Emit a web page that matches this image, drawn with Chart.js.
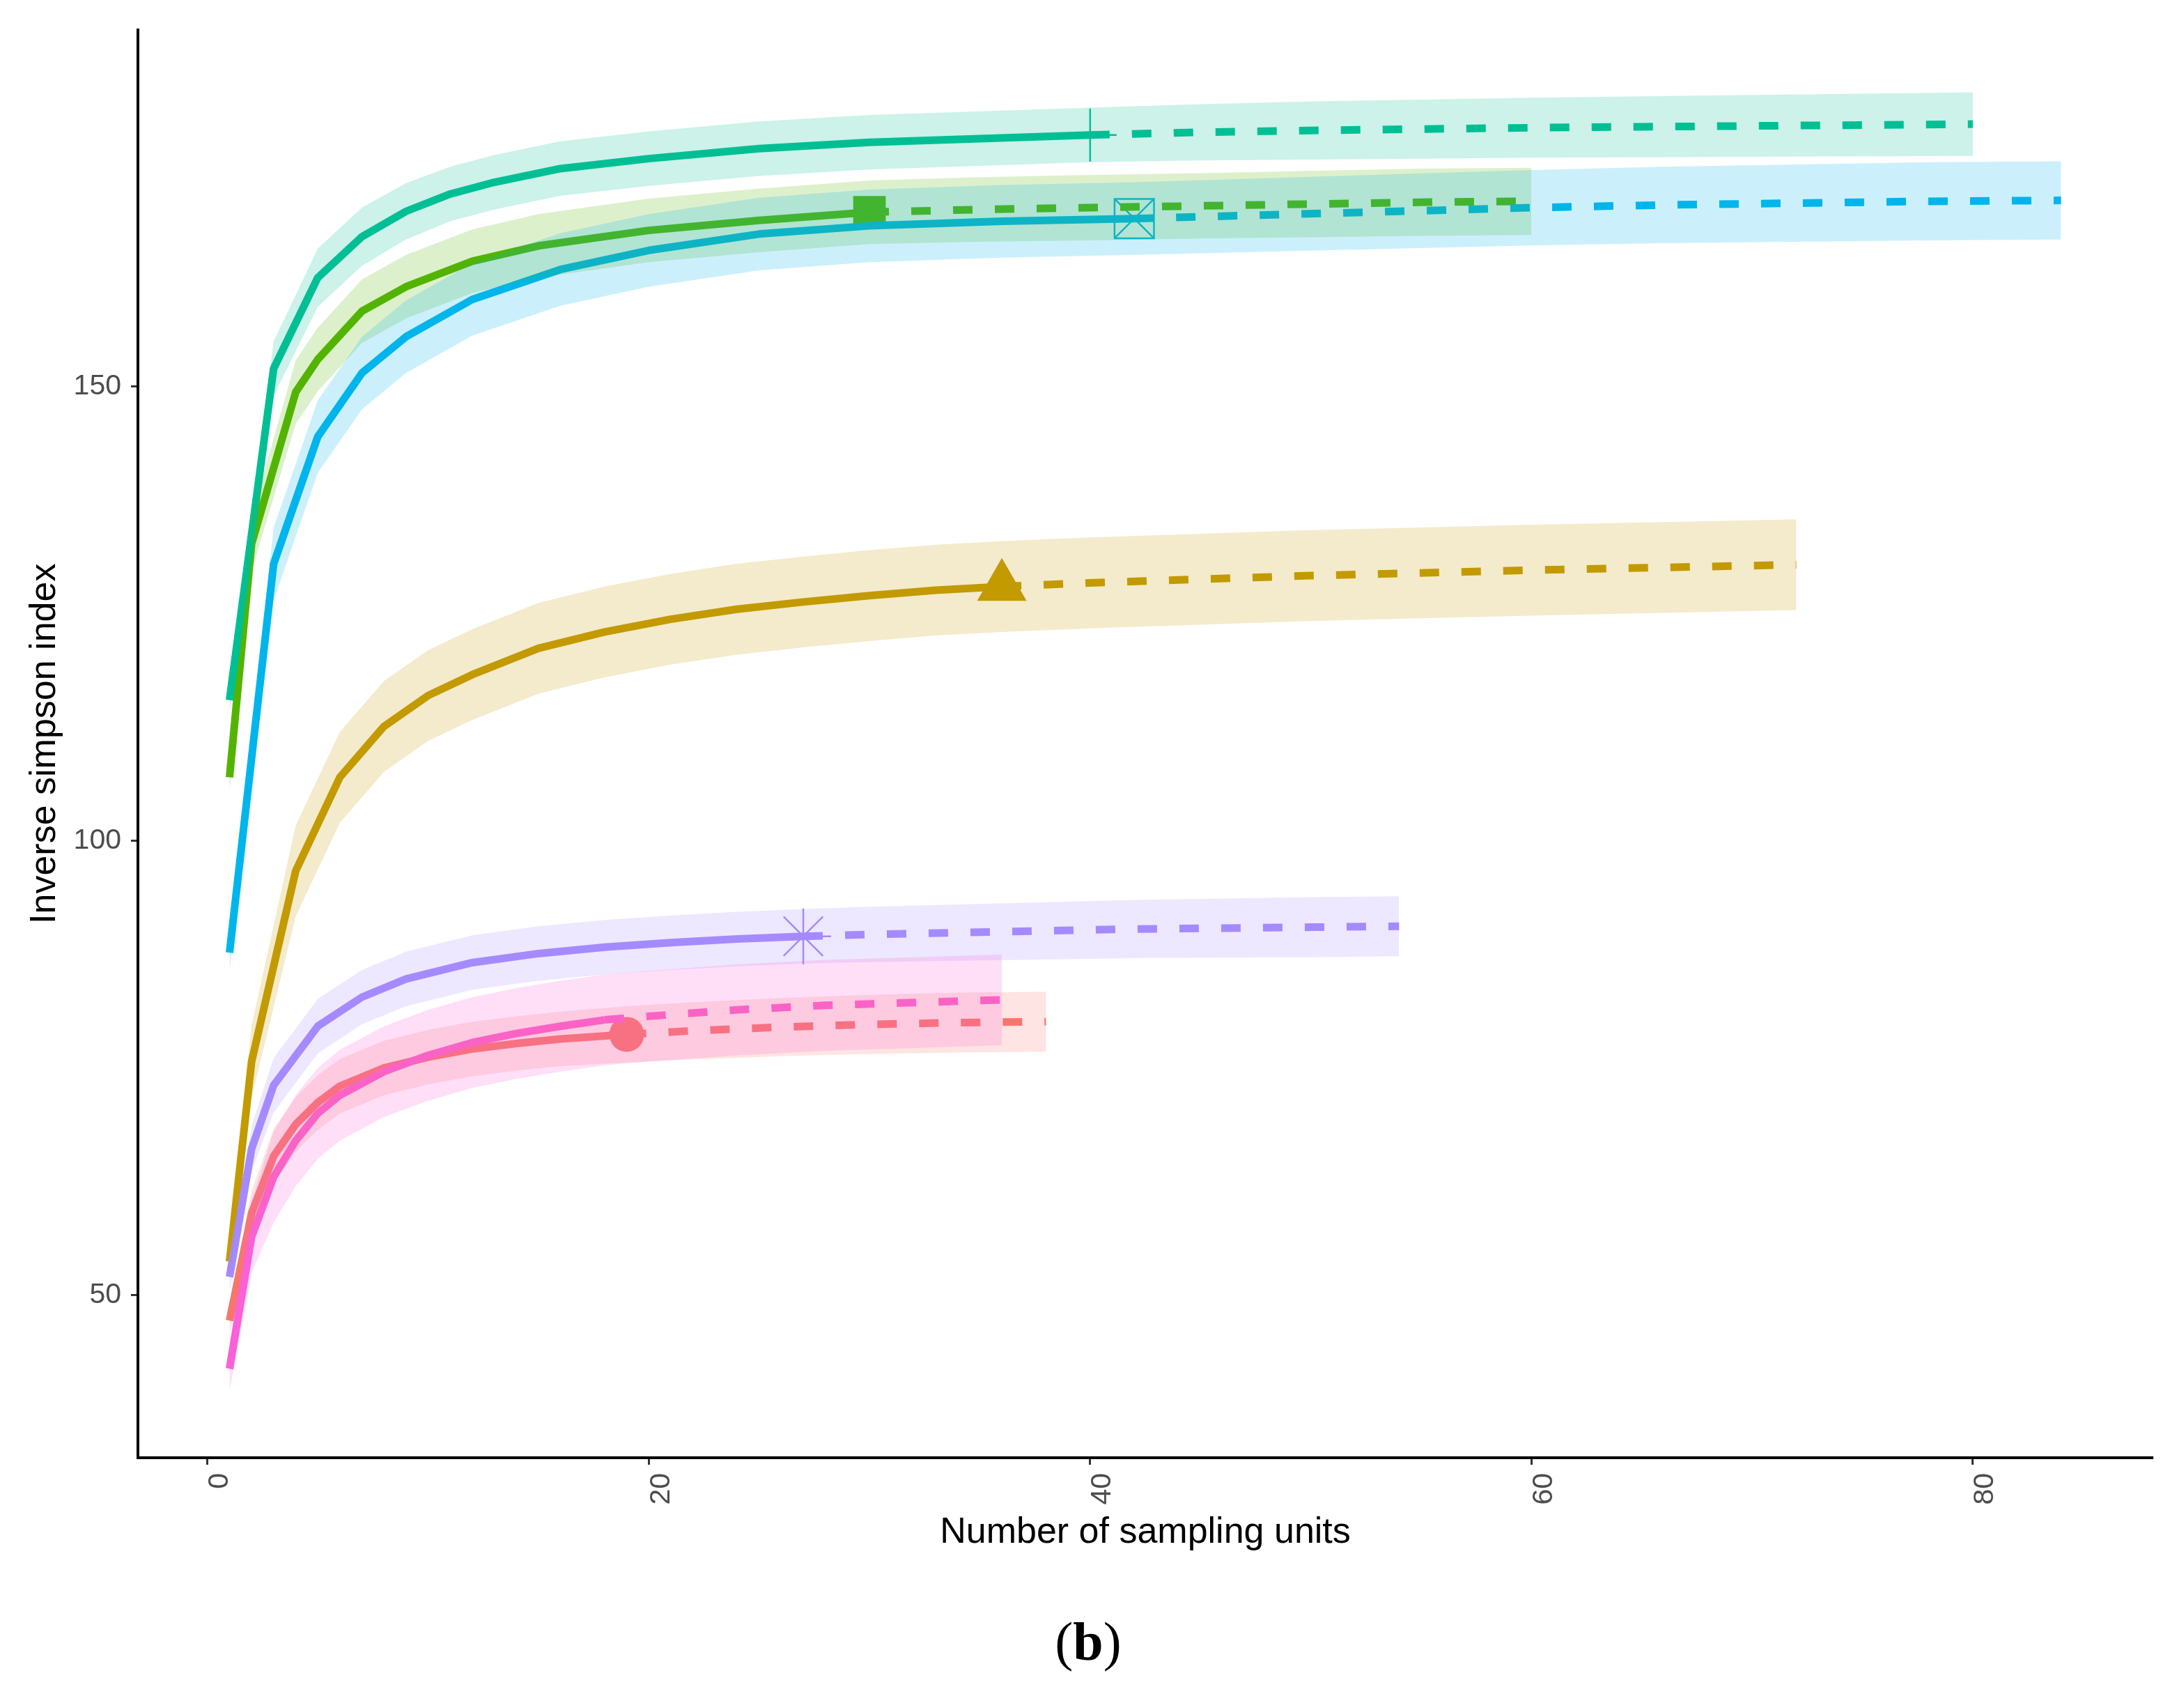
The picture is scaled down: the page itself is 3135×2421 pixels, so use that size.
<!DOCTYPE html>
<html>
<head>
<meta charset="utf-8">
<script src="https://cdn.jsdelivr.net/npm/chart.js@4.4.0/dist/chart.umd.min.js"></script>
<style>
    html, body { margin: 0; padding: 0; background: #fff; }
    #wrap { position: relative; width: 3135px; height: 2421px; }
    #caption {
        position: absolute; left: 0; top: 2317px; width: 3124px;
        text-align: center; font-family: "Liberation Serif", serif;
        font-size: 78px; line-height: 1; color: #000;
    }
</style>
</head>
<body>
<div id="wrap">
    <canvas id="chart" width="3135" height="2421"></canvas>
    <div id="caption">(<b>b</b>)</div>
</div>
<script>
// Tick labels
const xTicks = [0, 20, 40, 60, 80];
const yTicks = [50, 100, 150];

// Observed sample size of each group (solid line ends here, dashed after)
const sampleSizes = [19, 36, 30, 40, 42, 27, 18];

// Group 1 (red)
const redX  = [1, 2, 3, 4, 5, 6, 8, 10, 12, 14, 16, 19, 22, 26, 30, 34, 38];
const redY  = [47.2, 59, 65.3, 68.8, 71.2, 73, 75, 76.2, 77.1, 77.7, 78.2, 78.7, 79.1, 79.5, 79.8, 80, 80.1];
const redLo = [45.7, 56.5, 62.3, 65.8, 68.2, 70, 72, 73.2, 74.1, 74.7, 75.2, 75.6, 75.95, 76.3, 76.55, 76.7, 76.8];
const redHi = [48.7, 61.5, 68.3, 71.8, 74.2, 76, 78, 79.2, 80.1, 80.7, 81.2, 81.8, 82.25, 82.7, 83.05, 83.3, 83.4];

// Group 2 (gold)
const goldX  = [1, 2, 4, 6, 8, 10, 12, 15, 18, 21, 24, 27, 30, 33, 36, 40, 45, 50, 55, 60, 66, 72];
const goldY  = [53.7, 75.7, 96.7, 107, 112.6, 116, 118.3, 121.2, 123, 124.4, 125.5, 126.3, 127, 127.6, 128, 128.4, 128.8, 129.2, 129.5, 129.8, 130.1, 130.4];
const goldLo = [51.7, 71.7, 91.7, 102, 107.6, 111, 113.3, 116.2, 118, 119.4, 120.5, 121.3, 122, 122.6, 123, 123.4, 123.8, 124.2, 124.5, 124.8, 125.1, 125.4];
const goldHi = [55.7, 79.7, 101.7, 112, 117.6, 121, 123.3, 126.2, 128, 129.4, 130.5, 131.3, 132, 132.6, 133, 133.4, 133.8, 134.2, 134.5, 134.8, 135.1, 135.4];

// Group 3 (green)
const greenX  = [1, 2, 4, 5, 7, 9, 12, 15, 20, 25, 30, 35, 40, 45, 50, 55, 60];
const greenY  = [107, 132.7, 149.4, 153, 158.3, 161, 163.8, 165.5, 167.2, 168.3, 169.2, 169.5, 169.7, 169.9, 170.1, 170.3, 170.4];
const greenLo = [105.5, 129.7, 145.9, 149.5, 154.8, 157.5, 160.3, 162, 163.7, 164.8, 165.7, 165.95, 166.1, 166.3, 166.45, 166.6, 166.7];
const greenHi = [108.5, 135.7, 152.9, 156.5, 161.8, 164.5, 167.3, 169, 170.7, 171.8, 172.7, 173.05, 173.3, 173.5, 173.75, 174, 174.1];

// Group 4 (teal)
const tealX  = [1, 3, 5, 7, 9, 11, 13, 16, 20, 25, 30, 35, 40, 45, 50, 55, 60, 65, 70, 75, 80];
const tealY  = [115.5, 152, 162, 166.5, 169.3, 171.2, 172.5, 174, 175.1, 176.2, 176.9, 177.3, 177.7, 178, 178.2, 178.35, 178.5, 178.6, 178.7, 178.8, 178.9];
const tealLo = [114, 149, 158.8, 163.3, 166.2, 168.2, 169.5, 171, 172.1, 173.2, 173.9, 174.3, 174.7, 174.9, 175, 175.1, 175.2, 175.25, 175.3, 175.35, 175.4];
const tealHi = [117, 155, 165.2, 169.7, 172.4, 174.2, 175.5, 177, 178.1, 179.2, 179.9, 180.3, 180.7, 181.1, 181.4, 181.6, 181.8, 181.95, 182.1, 182.25, 182.4];

// Group 5 (blue)
const blueX  = [1, 3, 5, 7, 9, 12, 16, 20, 25, 30, 36, 42, 48, 54, 60, 66, 72, 78, 84];
const blueY  = [87.7, 130.5, 144.5, 151.5, 155.5, 159.6, 162.9, 165, 166.8, 167.7, 168.2, 168.5, 168.9, 169.3, 169.7, 170, 170.2, 170.4, 170.5];
const blueLo = [85.7, 126.5, 140.5, 147.5, 151.5, 155.6, 158.9, 161, 162.8, 163.7, 164.2, 164.5, 164.85, 165.2, 165.55, 165.8, 165.95, 166.1, 166.2];
const blueHi = [89.7, 134.5, 148.5, 155.5, 159.5, 163.6, 166.9, 169, 170.8, 171.7, 172.2, 172.5, 172.95, 173.4, 173.85, 174.2, 174.45, 174.7, 174.8];

// Group 6 (purple)
const purpleX  = [1, 2, 3, 5, 7, 9, 12, 15, 18, 21, 24, 27, 30, 34, 38, 42, 46, 50, 54];
const purpleY  = [52, 66.1, 73.1, 79.6, 82.8, 84.8, 86.6, 87.6, 88.3, 88.8, 89.2, 89.5, 89.7, 89.9, 90.1, 90.3, 90.4, 90.5, 90.6];
const purpleLo = [50.5, 63.6, 70.1, 76.6, 79.8, 81.8, 83.6, 84.6, 85.3, 85.8, 86.2, 86.5, 86.65, 86.8, 86.95, 87.1, 87.15, 87.2, 87.3];
const purpleHi = [53.5, 68.6, 76.1, 82.6, 85.8, 87.8, 89.6, 90.6, 91.3, 91.8, 92.2, 92.5, 92.75, 93, 93.25, 93.5, 93.65, 93.8, 93.9];

// Group 7 (pink)
const pinkX  = [1, 2, 3, 4, 5, 6, 8, 10, 12, 14, 16, 18, 20, 24, 28, 32, 36];
const pinkY  = [41.9, 56.4, 63, 67, 70, 72, 74.6, 76.4, 77.8, 78.8, 79.6, 80.3, 80.7, 81.4, 81.9, 82.2, 82.5];
const pinkLo = [39.4, 52.4, 58, 62, 65, 67, 69.6, 71.4, 72.8, 73.8, 74.6, 75.3, 75.7, 76.4, 76.9, 77.2, 77.5];
const pinkHi = [44.4, 60.4, 68, 72, 75, 77, 79.6, 81.4, 82.8, 83.8, 84.6, 85.3, 85.7, 86.4, 86.9, 87.2, 87.5];

// Colours (ggplot default hues) and end-point markers
const colors = ["#F8766D", "#C49A00", "#53B400", "#00C094", "#00B6EB", "#A58AFF", "#FB61D7"];
const markers = [
    [{ style: "circle", radius: 25, filled: true }],
    [{ style: "triangle", radius: 41, filled: true }],
    [{ style: "rect", radius: 33, filled: true }],
    [{ style: "cross", radius: 38, filled: false }],
    [{ style: "rect", radius: 40, filled: false }, { style: "crossRot", radius: 40, filled: false }],
    [{ style: "star", radius: 40, filled: false }],
    []
];

const groups = [
    [redX, redY, redLo, redHi],
    [goldX, goldY, goldLo, goldHi],
    [greenX, greenY, greenLo, greenHi],
    [tealX, tealY, tealLo, tealHi],
    [blueX, blueY, blueLo, blueHi],
    [purpleX, purpleY, purpleLo, purpleHi],
    [pinkX, pinkY, pinkLo, pinkHi]
];

function toPoints(xs, ys) {
    return xs.map((x, i) => ({ x: x, y: ys[i] }));
}

function withAlpha(hex, a) {
    const n = parseInt(hex.slice(1), 16);
    return `rgba(${(n >> 16) & 255}, ${(n >> 8) & 255}, ${n & 255}, ${a})`;
}

// Build datasets: points drawn first, then lines, ribbons last (on top)
const datasets = [];
groups.forEach(function (g, i) {
    const [xs, ys, lo, hi] = g;
    const color = colors[i];
    const n = sampleSizes[i];
    const obs = toPoints(xs, ys).filter(p => p.x <= n);
    const ext = toPoints(xs, ys).filter(p => p.x >= n);

    // Confidence ribbon
    datasets.push({
        data: toPoints(xs, hi), order: 100 - i, borderWidth: 0, pointRadius: 0,
        fill: "+1", backgroundColor: withAlpha(color, 0.2)
    });
    datasets.push({
        data: toPoints(xs, lo), order: 100 - i, borderWidth: 0, pointRadius: 0, fill: false
    });

    // Interpolated (solid) and extrapolated (dashed) curves
    datasets.push({
        data: obs, order: 200 - i, borderColor: color, borderWidth: 11, pointRadius: 0,
        borderJoinStyle: "round", borderCapStyle: "butt", fill: false
    });
    datasets.push({
        data: ext, order: 200 - i, borderColor: color, borderWidth: 11, pointRadius: 0,
        borderDash: [28, 32], borderCapStyle: "butt", fill: false
    });

    // Marker at the observed sample
    markers[i].forEach(function (m) {
        datasets.push({
            data: [obs[obs.length - 1]], order: 300 - i, showLine: false,
            pointStyle: m.style, pointRadius: m.radius,
            pointBackgroundColor: m.filled ? color : "rgba(0,0,0,0)",
            pointBorderColor: color, pointBorderWidth: m.filled ? 0 : 2.5
        });
    });
});

const tickFont = { family: "Liberation Sans", size: 41 };
const titleFont = { family: "Liberation Sans", size: 52 };

new Chart(document.getElementById("chart"), {
    type: "line",
    data: { datasets: datasets },
    options: {
        responsive: false,
        devicePixelRatio: 1,
        animation: false,
        events: [],
        layout: { padding: { top: 36, right: 45, left: 0, bottom: 0 } },
        plugins: { legend: { display: false }, tooltip: { enabled: false } },
        scales: {
            x: {
                type: "linear",
                min: -3.15,
                max: 88.15,
                afterBuildTicks: s => { s.ticks = xTicks.map(v => ({ value: v })); },
                afterFit: s => { s.height = 329; },
                border: { display: true, color: "#000", width: 4 },
                grid: { drawOnChartArea: false, drawTicks: true, tickLength: 10, tickColor: "#333", tickWidth: 3 },
                ticks: { font: tickFont, color: "#4D4D4D", minRotation: 90, maxRotation: 90, autoSkip: false, padding: 12, labelOffset: 18 },
                title: { display: true, text: "Number of sampling units", font: titleFont, color: "#000", padding: { top: 0, bottom: 190 } }
            },
            y: {
                type: "linear",
                min: 32.1,
                max: 189.3,
                afterBuildTicks: s => { s.ticks = yTicks.map(v => ({ value: v })); },
                afterFit: s => { s.width = 198; },
                border: { display: true, color: "#000", width: 4 },
                grid: { drawOnChartArea: false, drawTicks: true, tickLength: 10, tickColor: "#333", tickWidth: 3 },
                ticks: { font: tickFont, color: "#4D4D4D", padding: 14 },
                title: { display: true, text: "Inverse simpson index", font: titleFont, color: "#000", padding: { top: 33, bottom: 0 } }
            }
        }
    }
});
</script>
</body>
</html>
